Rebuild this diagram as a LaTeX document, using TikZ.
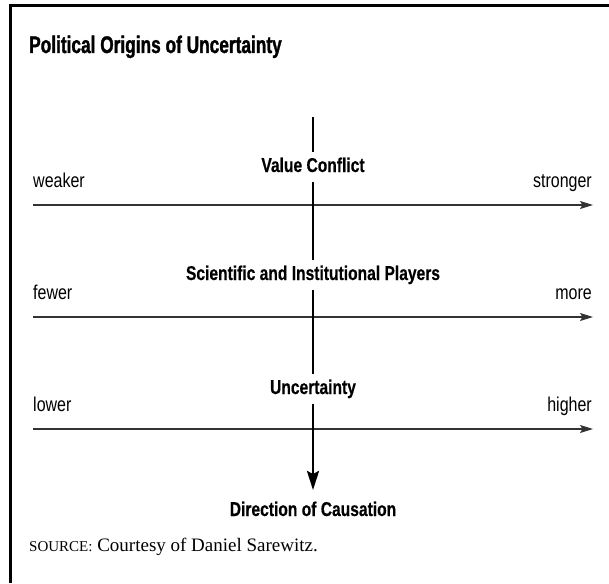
\documentclass[tikz,border=0pt]{standalone}
\usepackage{fontspec}
\setmainfont{Liberation Serif}
\newfontfamily\condf[FakeStretch=0.8]{Liberation Sans}
\newfontfamily\condm[FakeStretch=0.78, BoldFeatures={FakeBold=0.4}]{Liberation Sans}
\newfontfamily\titlefont[FakeStretch=0.72, BoldFeatures={FakeBold=1.3}]{Liberation Sans}
\usetikzlibrary{arrows.meta}
\begin{document}
\begin{tikzpicture}[x=1pt,y=-1pt,
  titletext/.style={font=\titlefont\bfseries\fontsize{24}{27}\selectfont, anchor=base west, inner sep=0pt},
  midlab/.style={font=\condm\bfseries\fontsize{20}{22}\selectfont, anchor=base, inner sep=0pt,
                 text height=14pt, text depth=4pt, outer ysep=6pt},
  endlab/.style={font=\condf\fontsize{20}{22}\selectfont, inner sep=0pt},
  axisline/.style={line width=1.3pt, draw=black!80, -{Stealth[length=13pt,width=8pt,inset=2.5pt]}},
  causeline/.style={line width=2.6pt, draw=black},
  frameline/.style={line width=3pt, draw=black}
]
\useasboundingbox (0,0) rectangle (609,583);
\coordinate (fbl) at (10,583);
\coordinate (ftl) at (10,6);
\coordinate (ftr) at (609,6);
\draw[frameline] (fbl) -- (ftl) -- (ftr);

\node[titletext] (title) at (29,53) {Political Origins of Uncertainty};

% horizontal axes
\coordinate (l1) at (33,205);  \coordinate (r1) at (593,205);
\coordinate (l2) at (33,317);  \coordinate (r2) at (593,317);
\coordinate (l3) at (33,429);  \coordinate (r3) at (593,429);
\draw[axisline] (l1) -- (r1);
\draw[axisline] (l2) -- (r2);
\draw[axisline] (l3) -- (r3);

\node[endlab, anchor=base west] (weaker) at (33,187) {weaker};
\node[endlab, anchor=base east] (stronger) at (592,187) {stronger};
\node[endlab, anchor=base west] (fewer) at (33,299) {fewer};
\node[endlab, anchor=base east] (more) at (592,299) {more};
\node[endlab, anchor=base west] (lower) at (33,411) {lower};
\node[endlab, anchor=base east] (higher) at (592,411) {higher};

% causation chain
\coordinate (ctop) at (313,117);
\node[midlab] (vc) at (313,172) {Value Conflict};
\node[midlab] (sp) at (313,280) {Scientific and Institutional Players};
\node[midlab] (unc) at (313,394) {Uncertainty};
\coordinate (ctip) at (313,490);
\draw[causeline] (ctop) -- (vc.north);
\draw[causeline] (vc.south) -- (sp.north);
\draw[causeline] (sp.south) -- (unc.north);
\draw[causeline, -{Stealth[length=19pt,width=12pt,inset=3pt]}] (unc.south) -- (ctip);

\node[midlab, outer ysep=0pt] (dir) at (313,516) {Direction of Causation};

\node[anchor=base west, inner sep=0pt, font=\fontsize{19}{22}\selectfont] (src) at (29,551)
  {{\fontsize{15}{18}\selectfont SOURCE:} Courtesy of Daniel Sarewitz.};
\end{tikzpicture}
\end{document}
